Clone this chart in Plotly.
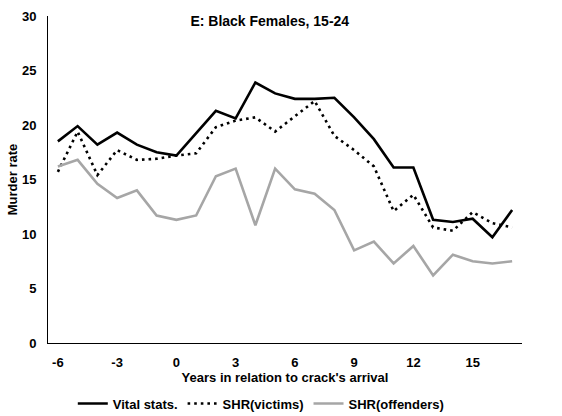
import plotly.graph_objects as go

years = list(range(-6, 18))
vital_stats = [18.5, 19.9, 18.2, 19.3, 18.2, 17.5, 17.2, 19.3, 21.3, 20.6, 23.9, 22.9,
               22.4, 22.4, 22.5, 20.7, 18.7, 16.1, 16.1, 11.3, 11.1, 11.4, 9.7, 12.2]
shr_victims = [15.7, 19.4, 15.4, 17.7, 16.8, 16.9, 17.2, 17.4, 19.8, 20.4, 20.7, 19.4,
               20.8, 22.2, 19.0, 17.7, 16.2, 12.1, 13.6, 10.6, 10.3, 12.0, 11.0, 10.6]
shr_offenders = [16.2, 16.8, 14.6, 13.3, 14.0, 11.7, 11.3, 11.7, 15.3, 16.0, 10.8, 16.0,
                 14.1, 13.7, 12.2, 8.5, 9.3, 7.3, 8.9, 6.2, 8.1, 7.5, 7.3, 7.5]
x_ticks = [-6, -3, 0, 3, 6, 9, 12, 15]
y_ticks = [0, 5, 10, 15, 20, 25, 30]

font = "Liberation Sans, Arial, sans-serif"

fig = go.Figure()
fig.add_trace(go.Scatter(x=years, y=vital_stats, name="<b>Vital stats.</b>", mode="lines",
                         line=dict(color="black", width=2.6)))
fig.add_trace(go.Scatter(x=years, y=shr_victims, name="<b>SHR(victims)</b>", mode="lines",
                         line=dict(color="black", width=2.6, dash="2.6px,4px")))
fig.add_trace(go.Scatter(x=years, y=shr_offenders, name="<b>SHR(offenders)</b>", mode="lines",
                         line=dict(color="#a6a6a6", width=2.6)))

fig.update_layout(
    width=562, height=416,
    margin=dict(l=48, r=40, t=16, b=73, autoexpand=False),
    paper_bgcolor="white", plot_bgcolor="white",
    font=dict(family=font, size=13, color="black"),
    title=dict(text="<b>E: Black Females, 15-24</b>", x=0.48, xanchor="center",
               y=0.95, yanchor="middle", font=dict(size=14, family=font, color="black")),
    showlegend=True,
    legend=dict(orientation="h", x=0.45, xanchor="center", yref="container",
                y=0.03, yanchor="middle", font=dict(size=13, family=font),
                itemwidth=30, tracegroupgap=0, bgcolor="rgba(0,0,0,0)"),
)
fig.update_xaxes(
    range=[-6.5, 17.5], tickvals=x_ticks, ticktext=[f"<b>{v}</b>" for v in x_ticks],
    showgrid=False, zeroline=False, showline=True, linecolor="black", linewidth=1,
    ticks="", ticklabelstandoff=7, tickfont=dict(size=13),
    title=dict(text="<b>Years in relation to crack's arrival</b>", standoff=2,
               font=dict(size=13, family=font)),
)
fig.update_yaxes(
    range=[0, 30], tickvals=y_ticks, ticktext=[f"<b>{v}</b>" for v in y_ticks],
    showgrid=False, zeroline=False, showline=True, linecolor="black", linewidth=1,
    ticks="", ticklabelstandoff=8, tickfont=dict(size=13),
    title=dict(text="<b>Murder rate</b>", standoff=1, font=dict(size=13, family=font)),
)

fig.write_html("out.html")
